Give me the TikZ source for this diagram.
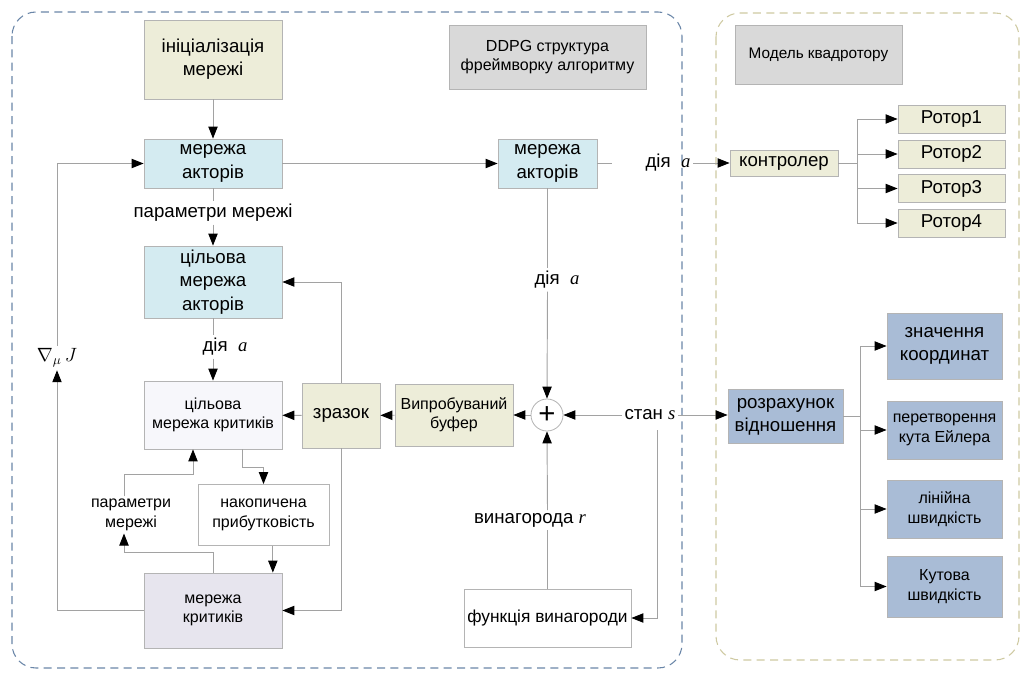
\documentclass[tikz,border=0pt]{standalone}
\usepackage{fontspec}
\setmainfont{Liberation Sans}
\newfontfamily\serfont{Liberation Serif}
\usetikzlibrary{arrows.meta}
\definecolor{beige}{HTML}{EDEDD9}
\definecolor{lblue}{HTML}{D4EBF1}
\definecolor{sblue}{HTML}{A9BCD6}
\definecolor{lgray}{HTML}{D9D9D9}
\definecolor{lav}{HTML}{E7E5EE}
\definecolor{wlav}{HTML}{F7F7FB}
\definecolor{bord}{HTML}{B4B4B4}
\definecolor{lncol}{HTML}{A2A2A2}
\definecolor{dashL}{HTML}{6A86A8}
\definecolor{dashR}{HTML}{CFCAA2}
\newcommand\fA{\fontsize{14}{17.5}\selectfont}
\newcommand\fB{\fontsize{12}{14.5}\selectfont}
\newcommand\fC{\fontsize{13}{15.5}\selectfont}
\newcommand\mi[1]{{\serfont\itshape #1}}
\begin{document}
\begin{tikzpicture}[x=0.75pt,y=-0.75pt,
  bx/.style 2 args={draw=bord, line width=0.6pt, align=center, inner sep=1pt,
     minimum width=#1*0.75pt, minimum height=#2*0.75pt},
  lbl/.style={align=center, inner sep=2pt},
  ln/.style={draw=lncol, line width=0.7pt},
  ar/.style={ln, -{Triangle[length=9pt,width=7pt,fill=black,color=black]}},
  frame/.style={dash pattern=on 6pt off 4pt, line width=0.8pt, rounded corners=18pt}]
\useasboundingbox (0,0) rectangle (1025,672);
\fill[white] (0,0) rectangle (1025,672);
% containers
\draw[frame, dashL] (12,12) rectangle (682,668);
\draw[frame, dashR] (716,13) rectangle (1019,660);
% left part nodes
\node[bx={138}{79}, fill=beige, font=\fA] (init) at (213,59.5) {ініціалізація\\мережі};
\node[bx={138}{49}, fill=lblue, font=\fA] (actor1) at (213,163.5) {мережа\\акторів};
\node[lbl, font=\fA] (pm1) at (213,213) {параметри мережі};
\node[bx={138}{72}, fill=lblue, font=\fA] (tactor) at (213,282) {цільова\\мережа\\акторів};
\node[lbl, font=\fA] (da1) at (225,347) {дія \ \mi{a}};
\node[bx={138}{68}, fill=wlav, font=\fB] (tcritic) at (213,415) {цільова\\мережа критиків};
\node[bx={78}{65}, fill=beige, font=\fA] (zrazok) at (341,415.5) {зразок};
\node[bx={118}{62}, fill=beige, font=\fB] (buffer) at (454,415) {Випробуваний\\буфер};
\node[circle, draw=bord, fill=white, line width=0.6pt, minimum size=32*0.75pt, inner sep=0pt,
      font=\fontsize{22}{22}\selectfont] (plus) at (547,415) {+};
\node[lbl, font=\fA] (stan) at (650,415) {стан \mi{s}};
\node[bx={99}{49}, fill=lblue, font=\fA] (actor2) at (547.5,163.5) {мережа\\акторів};
\node[lbl, font=\fA] (da2) at (557,280) {дія \ \mi{a}};
\node[lbl, font=\fA] (da3) at (668,163) {дія \ \mi{a}};
\node[bx={197}{64}, fill=lgray, font=\fB] (ddpg) at (547.5,57) {DDPG структура\\фреймворку алгоритму};
\node[bx={131}{61}, fill=white, font=\fB] (acc) at (263.5,515) {накопичена\\прибутковість};
\node[lbl, font=\fB] (pm2) at (131,515) {параметри\\мережі};
\node[bx={138}{75}, fill=lav, font=\fB] (critic) at (213,610.5) {мережа\\критиків};
\node[bx={167}{58}, fill=white, font=\fC] (reward) at (547.5,618) {функція винагороди};
\node[lbl, font=\fA] (vr) at (530,520) {винагорода \mi{r}};
\node[lbl, font=\fA] (grad) at (57,358) {$\nabla_{\mu}\,J$};
% right part nodes
\node[bx={167}{59}, fill=lgray, font=\fontsize{11.5}{14}\selectfont] (model) at (818.5,54.5) {Модель квадротору};
\node[bx={108}{26}, fill=beige, font=\fA] (ctrl) at (784,163) {контролер};
\node[bx={107}{28}, fill=beige, font=\fA] (r1) at (951.5,119) {Ротор1};
\node[bx={107}{28}, fill=beige, font=\fA] (r2) at (951.5,154) {Ротор2};
\node[bx={107}{28}, fill=beige, font=\fA] (r3) at (951.5,188.5) {Ротор3};
\node[bx={107}{28}, fill=beige, font=\fA] (r4) at (951.5,223) {Ротор4};
\node[bx={115}{54}, fill=sblue, font=\fA] (rozr) at (785.5,416.5) {розрахунок\\відношення};
\node[bx={115}{66}, fill=sblue, font=\fA] (b1) at (944.5,346) {значення\\координат};
\node[bx={115}{58}, fill=sblue, font=\fB] (b2) at (944.5,430) {перетворення\\кута Ейлера};
\node[bx={115}{58}, fill=sblue, font=\fB] (b3) at (944.5,509) {лінійна\\швидкість};
\node[bx={115}{61}, fill=sblue, font=\fB] (b4) at (944.5,586.5) {Кутова\\швидкість};
% coordinates
\coordinate (ct) at (857,163);
\coordinate (rt) at (860,416.5);
\coordinate (k1) at (193,474);
\coordinate (k2) at (242,467);
\coordinate (sd) at (657,430);
% connectors
\draw[ar] (init) -- (actor1);
\draw[ln] (actor1.south) -- (pm1.north);
\draw[ar] (pm1.south) -- (tactor.north);
\draw[ar] (actor1) -- (actor2);
\draw[ar] (critic.west) -| (grad.south);
\draw[ar] (grad.north) |- (actor1.west);
\draw[ln] (tactor.south) -- (tactor.south |- da1.north);
\draw[ar] (tactor.south |- da1.south) -- (tcritic.north);
\draw[ar] (zrazok) -- (tcritic);
\draw[ar] (zrazok.north) |- (tactor.east);
\draw[ar] (zrazok.south) |- (critic.east);
\draw[ar] (buffer) -- (zrazok);
\draw[ar] (plus) -- (buffer);
\draw[ar] (stan.west) -- (plus.east);
\draw[ar] (stan.east) -- (stan.east -| rozr.west);
\draw[ar] (sd) |- (reward.east);
\draw[ln] (reward.north) -- (reward.north |- vr.south);
\draw[ar] (reward.north |- vr.north) -- (plus.south);
\draw[ln] (actor2.south) -- (actor2.south |- da2.north);
\draw[ar] (actor2.south |- da2.south) -- (plus.north);
\draw[ln] (actor2.east) -- ++(15,0);
\draw[ar] (da3.east) -- (ctrl.west);
\draw[ln] (ctrl.east) -- (ct);
\foreach \r in {r1,r2,r3,r4} \draw[ar] (ct) |- (\r.west);
\draw[ln] (rozr.east) -- (rt);
\foreach \b in {b1,b2,b3,b4} \draw[ar] (rt) |- (\b.west);
\draw[ar] (tcritic.south -| k2) -- (k2) -| (acc.north);
\draw[ar] ([xshift=7pt]acc.south) -- ([xshift=7pt]acc.south |- critic.north);
\draw[ar] (critic.north) -- ++(0,-20) -| ([xshift=-5.25pt]pm2.south);
\draw[ar] ([xshift=-5.25pt]pm2.north) |- (k1) -- (k1 |- tcritic.south);
\end{tikzpicture}
\end{document}
